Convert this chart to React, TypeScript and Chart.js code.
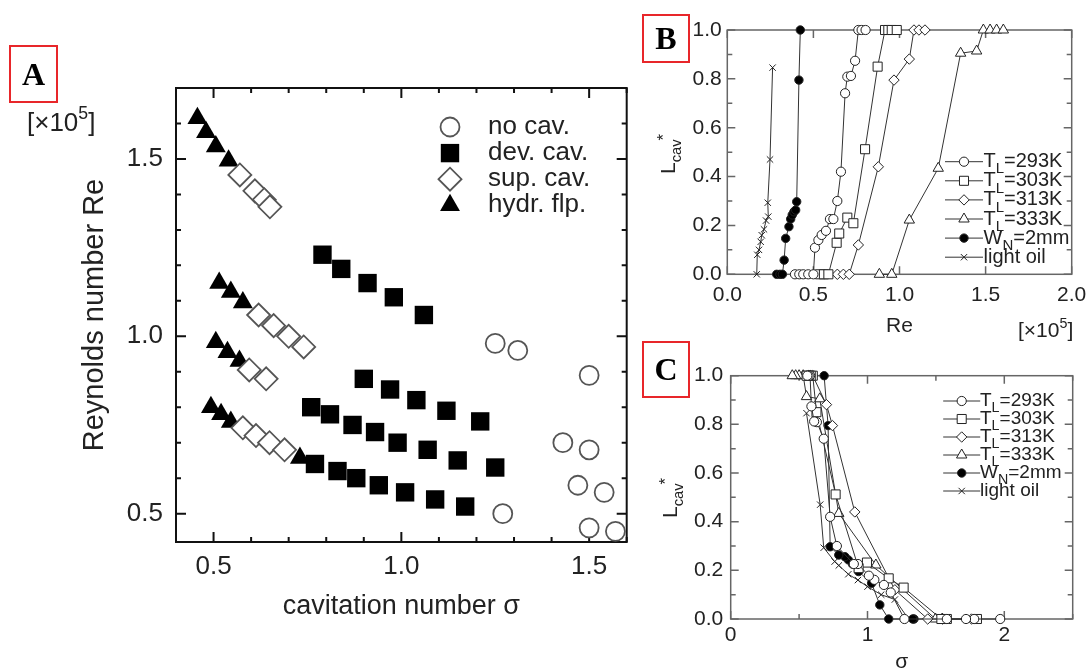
import React, { useEffect, useRef } from 'react';
import { Chart, registerables } from 'chart.js';
import { drawPoint } from 'chart.js/helpers';

Chart.register(...registerables);

const FONT = '"Liberation Sans", Arial, sans-serif';
const TXT = '#222';

// ---------------- Panel A: Re vs cavitation number ----------------
const noCavSigma = [1.25, 1.31, 1.5, 1.43, 1.5, 1.47, 1.54, 1.27, 1.5, 1.57];
const noCavRe = [0.98, 0.96, 0.89, 0.7, 0.68, 0.58, 0.56, 0.5, 0.46, 0.45];

const devCavSigma = [
  0.79, 0.84, 0.91, 0.98, 1.06,
  0.9, 0.97, 1.04, 1.12, 1.21,
  0.76, 0.81, 0.87, 0.93, 0.99, 1.07, 1.15, 1.25,
  0.77, 0.83, 0.88, 0.94, 1.01, 1.09, 1.17,
];
const devCavRe = [
  1.23, 1.19, 1.15, 1.11, 1.06,
  0.88, 0.85, 0.82, 0.79, 0.76,
  0.8, 0.78, 0.75, 0.73, 0.7, 0.68, 0.65, 0.63,
  0.64, 0.62, 0.6, 0.58, 0.56, 0.54, 0.52,
];

const supCavSigma = [0.57, 0.61, 0.635, 0.65, 0.62, 0.66, 0.7, 0.74, 0.595, 0.64, 0.578, 0.613, 0.649, 0.689];
const supCavRe = [1.455, 1.41, 1.385, 1.365, 1.06, 1.03, 1.0, 0.97, 0.905, 0.88, 0.742, 0.72, 0.7, 0.68];

const hydrFlpSigma = [0.457, 0.48, 0.506, 0.54, 0.515, 0.546, 0.578, 0.506, 0.537, 0.569, 0.493, 0.52, 0.546, 0.73];
const hydrFlpRe = [1.615, 1.575, 1.535, 1.495, 1.15, 1.125, 1.095, 0.983, 0.955, 0.93, 0.8, 0.78, 0.758, 0.657];

// ---------------- Panels B and C: L_cav* vs Re and vs sigma ----------------
const re293 = [0.393, 0.418, 0.441, 0.47, 0.5, 0.509, 0.529, 0.548, 0.573, 0.596, 0.616, 0.639, 0.66, 0.684, 0.697, 0.718, 0.742, 0.761, 0.78, 0.803];
const sigma293 = [1.97, 1.78, 1.72, 1.58, 1.27, 1.17, 1.12, 1.05, 1.01, 0.93, 0.9, 0.776, 0.727, 0.68, 0.63, 0.61, 0.59, 0.58, 0.57, 0.56];
const lcav293 = [0, 0, 0, 0, 0, 0.109, 0.14, 0.161, 0.178, 0.226, 0.226, 0.3, 0.42, 0.741, 0.809, 0.812, 0.874, 1, 1, 1];

const re303 = [0.538, 0.561, 0.587, 0.635, 0.65, 0.697, 0.732, 0.8, 0.873, 0.916, 0.935, 0.955, 0.984];
const sigma303 = [1.8, 1.58, 1.54, 1.264, 1.155, 0.996, 0.935, 0.767, 0.627, 0.6, 0.585, 0.57, 0.555];
const lcav303 = [0, 0, 0, 0.129, 0.167, 0.232, 0.209, 0.512, 0.85, 1, 1, 1, 1];

const re313 = [0.639, 0.674, 0.708, 0.761, 0.877, 0.968, 1.057, 1.084, 1.113, 1.148];
const sigma313 = [1.76, 1.55, 1.44, 1.2, 0.907, 0.744, 0.7, 0.6, 0.585, 0.57];
const lcav313 = [0, 0, 0, 0.12, 0.44, 0.795, 0.881, 1, 1, 1];

const re333 = [0.883, 0.955, 1.057, 1.225, 1.355, 1.448, 1.487, 1.526, 1.564, 1.603];
const sigma333 = [1.546, 1.497, 1.061, 0.79, 0.651, 0.554, 0.53, 0.5, 0.475, 0.45];
const lcav333 = [0, 0, 0.222, 0.434, 0.905, 0.914, 1, 1, 1, 1];

const reWn = [0.287, 0.306, 0.32, 0.33, 0.339, 0.358, 0.368, 0.377, 0.387, 0.397, 0.403, 0.416, 0.424];
const sigmaWn = [1.34, 1.33, 1.155, 1.09, 1.03, 0.935, 0.89, 0.86, 0.835, 0.79, 0.727, 0.712, 0.683];
const lcavWn = [0, 0, 0, 0.058, 0.147, 0.195, 0.226, 0.243, 0.256, 0.263, 0.297, 0.795, 1.0];

const reOil = [0.171, 0.174, 0.184, 0.194, 0.2, 0.213, 0.225, 0.238, 0.235, 0.248, 0.263];
const sigmaOil = [1.3, 1.2, 1.1, 1.0, 0.93, 0.86, 0.79, 0.76, 0.68, 0.654, 0.554];
const lcavOil = [0, 0.08, 0.1, 0.133, 0.16, 0.184, 0.22, 0.236, 0.293, 0.47, 0.846];

const pair = (xs: number[], ys: number[]) => xs.map((x, i) => ({ x, y: ys[i] }));

// ---------------- plugins ----------------
const frameTicksPlugin = {
  id: 'frameTicks',
  beforeDatasetsDraw(chart: any, _a: any, o: any) {
    if (!o || !o.color) return;
    const { ctx, chartArea: ca, scales } = chart;
    ctx.save();
    ctx.strokeStyle = o.color;
    ctx.lineWidth = o.width;
    ctx.strokeRect(ca.left, ca.top, ca.right - ca.left, ca.bottom - ca.top);
    const draw = (scale: any, minor: number, major: number, horiz: boolean) => {
      const start = Math.ceil(scale.min / minor - 1e-6);
      const end = Math.floor(scale.max / minor + 1e-6);
      for (let k = start; k <= end; k++) {
        const v = k * minor;
        const isMajor = Math.abs(v / major - Math.round(v / major)) < 1e-6;
        const len = isMajor ? o.majorLen : o.minorLen;
        const p = scale.getPixelForValue(v);
        ctx.beginPath();
        if (horiz) {
          ctx.moveTo(p, ca.bottom); ctx.lineTo(p, ca.bottom - len);
          ctx.moveTo(p, ca.top); ctx.lineTo(p, ca.top + len);
        } else {
          ctx.moveTo(ca.left, p); ctx.lineTo(ca.left + len, p);
          ctx.moveTo(ca.right, p); ctx.lineTo(ca.right - len, p);
        }
        ctx.stroke();
      }
    };
    draw(scales.x, o.xMinor, o.xMajor, true);
    draw(scales.y, o.yMinor, o.yMajor, false);
    ctx.restore();
  },
};

const legendPlugin = {
  id: 'customLegend',
  afterDraw(chart: any, _a: any, o: any) {
    if (!o || !o.items) return;
    const ctx = chart.ctx;
    ctx.save();
    o.items.forEach((it: any, i: number) => {
      const y = o.y + i * o.dy;
      if (o.lineLen) {
        ctx.strokeStyle = o.lineColor;
        ctx.lineWidth = 1;
        ctx.beginPath();
        ctx.moveTo(o.x - o.lineLen / 2, y);
        ctx.lineTo(o.x + o.lineLen / 2, y);
        ctx.stroke();
      }
      ctx.fillStyle = it.fill;
      ctx.strokeStyle = it.stroke;
      ctx.lineWidth = it.bw;
      drawPoint(ctx, { pointStyle: it.style, radius: it.radius, borderWidth: it.bw, rotation: 0 } as any, o.x, y);
      let tx = o.textX;
      ctx.fillStyle = o.color;
      ctx.textBaseline = 'middle';
      ctx.textAlign = 'left';
      for (const p of it.parts) {
        const size = p.sub ? o.fontSize * 0.75 : o.fontSize;
        ctx.font = `${size}px ${FONT}`;
        const dy = p.sub ? o.fontSize * 0.38 : 0;
        ctx.fillText(p.t, tx, y + dy);
        tx += ctx.measureText(p.t).width;
      }
    });
    ctx.restore();
  },
};

// ---------------- config builders ----------------
function fixedAxis(size: number, horizontal: boolean) {
  return (s: any) => {
    if (horizontal) s.height = size; else s.width = size;
    s.paddingLeft = 0; s.paddingRight = 0; s.paddingTop = 0; s.paddingBottom = 0;
  };
}

function configA() {
  const mk = (label: string, xs: number[], ys: number[], style: string, r: number, bg: string, bc: string, bw: number) => ({
    label, data: pair(xs, ys), showLine: false, pointStyle: style, pointRadius: r,
    pointBackgroundColor: bg, pointBorderColor: bc, pointBorderWidth: bw, clip: false,
  });
  return {
    type: 'scatter',
    data: {
      datasets: [
        mk('no cav.', noCavSigma, noCavRe, 'circle', 9.5, '#fff', '#555', 1.8),
        mk('dev. cav.', devCavSigma, devCavRe, 'rect', 13, '#000', '#000', 0),
        mk('sup. cav.', supCavSigma, supCavRe, 'rectRot', 11.5, '#fff', '#555', 1.8),
        mk('hydr. flp.', hydrFlpSigma, hydrFlpRe, 'triangle', 11.5, '#000', '#000', 0),
      ],
    },
    options: {
      responsive: false, animation: false, devicePixelRatio: 1,
      layout: { padding: { left: 0, top: 88, right: 13, bottom: 0 } },
      scales: {
        x: {
          type: 'linear', position: 'bottom', min: 0.4, max: 1.6,
          grid: { display: false, drawTicks: false }, border: { display: false },
          ticks: { stepSize: 0.5, includeBounds: false, padding: 9.4, color: TXT, font: { family: FONT, size: 26 }, callback: (v: any) => Number(v).toFixed(1) },
          title: { display: true, text: 'cavitation number σ', color: TXT, font: { family: FONT, size: 27 }, padding: { top: 0, bottom: 44.8 } },
          afterFit: fixedAxis(126, true),
        },
        y: {
          type: 'linear', position: 'left', min: 0.42, max: 1.7,
          grid: { display: false, drawTicks: false }, border: { display: false },
          ticks: { stepSize: 0.5, includeBounds: false, padding: 13, color: TXT, font: { family: FONT, size: 26 }, callback: (v: any) => Number(v).toFixed(1) },
          title: { display: true, text: 'Reynolds number Re', color: TXT, font: { family: FONT, size: 29 }, padding: { top: 77.6, bottom: 0 } },
          afterFit: fixedAxis(176, false),
        },
      },
      plugins: {
        legend: { display: false },
        tooltip: { enabled: false },
        frameTicks: { color: '#111', width: 2, xMinor: 0.1, xMajor: 0.5, yMinor: 0.1, yMajor: 0.5, majorLen: 10, minorLen: 5 },
        customLegend: {
          x: 450, y: 127, dy: 26.1, textX: 488, fontSize: 26, color: TXT, lineLen: 0,
          items: [
            { parts: [{ t: 'no cav.' }], style: 'circle', radius: 9.5, fill: '#fff', stroke: '#555', bw: 1.8 },
            { parts: [{ t: 'dev. cav.' }], style: 'rect', radius: 13, fill: '#000', stroke: '#000', bw: 0 },
            { parts: [{ t: 'sup. cav.' }], style: 'rectRot', radius: 11.5, fill: '#fff', stroke: '#555', bw: 1.8 },
            { parts: [{ t: 'hydr. flp.' }], style: 'triangle', radius: 11.5, fill: '#000', stroke: '#000', bw: 0 },
          ],
        },
      },
    },
    plugins: [frameTicksPlugin, legendPlugin],
  };
}

const seriesStyles = [
  { style: 'circle', r: 4.6, bg: '#fff' },
  { style: 'rect', r: 6.4, bg: '#fff' },
  { style: 'rectRot', r: 5.2, bg: '#fff' },
  { style: 'triangle', r: 6, bg: '#fff' },
  { style: 'circle', r: 4.2, bg: '#000' },
  { style: 'crossRot', r: 4.5, bg: '#000' },
];

const legendParts = [
  [{ t: 'T' }, { t: 'L', sub: true }, { t: '=293K' }],
  [{ t: 'T' }, { t: 'L', sub: true }, { t: '=303K' }],
  [{ t: 'T' }, { t: 'L', sub: true }, { t: '=313K' }],
  [{ t: 'T' }, { t: 'L', sub: true }, { t: '=333K' }],
  [{ t: 'W' }, { t: 'N', sub: true }, { t: '=2mm' }],
  [{ t: 'light oil' }],
];
const seriesLabels = ['TL=293K', 'TL=303K', 'TL=313K', 'TL=333K', 'WN=2mm', 'light oil'];

function lineDatasets(xsList: number[][], ysList: number[][]) {
  return xsList.map((xs, i) => ({
    label: seriesLabels[i],
    data: pair(xs, ysList[i]),
    showLine: true,
    borderColor: '#333',
    borderWidth: 1,
    pointStyle: seriesStyles[i].style,
    pointRadius: seriesStyles[i].r,
    pointBackgroundColor: seriesStyles[i].bg,
    pointBorderColor: '#222',
    pointBorderWidth: 1,
    clip: false,
  }));
}

function legendItems() {
  return seriesStyles.map((s, i) => ({ parts: legendParts[i], style: s.style, radius: s.r, fill: s.bg, stroke: '#222', bw: 1 }));
}

const lcavList = [lcav293, lcav303, lcav313, lcav333, lcavWn, lcavOil];

function configB() {
  return {
    type: 'scatter',
    data: { datasets: lineDatasets([re293, re303, re313, re333, reWn, reOil], lcavList) },
    options: {
      responsive: false, animation: false, devicePixelRatio: 1,
      layout: { padding: { left: 0, top: 30, right: 18.3, bottom: 0 } },
      scales: {
        x: {
          type: 'linear', position: 'bottom', min: 0, max: 2,
          grid: { display: false, drawTicks: false }, border: { display: false },
          ticks: { stepSize: 0.5, padding: 8.1, color: TXT, font: { family: FONT, size: 21 }, callback: (v: any) => Number(v).toFixed(1) },
          title: { display: true, text: 'Re', color: TXT, font: { family: FONT, size: 21 }, padding: { top: 0, bottom: 1.4 } },
          afterFit: fixedAxis(65.7, true),
        },
        y: {
          type: 'linear', position: 'left', min: 0, max: 1,
          grid: { display: false, drawTicks: false }, border: { display: false },
          ticks: { stepSize: 0.2, padding: 5.6, color: TXT, font: { family: FONT, size: 21 }, callback: (v: any) => Number(v).toFixed(1) },
          afterFit: fixedAxis(87.3, false),
        },
      },
      plugins: {
        legend: { display: false },
        tooltip: { enabled: false },
        frameTicks: { color: '#666', width: 1.5, xMinor: 0.5, xMajor: 0.5, yMinor: 0.1, yMajor: 0.2, majorLen: 8, minorLen: 5 },
        customLegend: { x: 324, y: 161.7, dy: 19.1, textX: 343.5, fontSize: 20, color: TXT, lineLen: 38, lineColor: '#333', items: legendItems() },
      },
    },
    plugins: [frameTicksPlugin, legendPlugin],
  };
}

function configC() {
  return {
    type: 'scatter',
    data: { datasets: lineDatasets([sigma293, sigma303, sigma313, sigma333, sigmaWn, sigmaOil], lcavList) },
    options: {
      responsive: false, animation: false, devicePixelRatio: 1,
      layout: { padding: { left: 0, top: 35.7, right: 17.3, bottom: 0 } },
      scales: {
        x: {
          type: 'linear', position: 'bottom', min: 0, max: 2.5,
          grid: { display: false, drawTicks: false }, border: { display: false },
          ticks: { stepSize: 1, includeBounds: false, padding: 3.4, color: TXT, font: { family: FONT, size: 21 }, callback: (v: any) => String(v) },
          title: { display: true, text: 'σ', color: TXT, font: { family: FONT, size: 21 }, padding: { top: 0, bottom: 5.4 } },
          afterFit: fixedAxis(61, true),
        },
        y: {
          type: 'linear', position: 'left', min: 0, max: 1,
          grid: { display: false, drawTicks: false }, border: { display: false },
          ticks: { stepSize: 0.2, padding: 7.4, color: TXT, font: { family: FONT, size: 21 }, callback: (v: any) => Number(v).toFixed(1) },
          afterFit: fixedAxis(90.7, false),
        },
      },
      plugins: {
        legend: { display: false },
        tooltip: { enabled: false },
        frameTicks: { color: '#666', width: 1.5, xMinor: 0.5, xMajor: 1, yMinor: 0.1, yMajor: 0.2, majorLen: 8, minorLen: 5 },
        customLegend: { x: 321.7, y: 61, dy: 18, textX: 340, fontSize: 19, color: TXT, lineLen: 37, lineColor: '#333', items: legendItems() },
      },
    },
    plugins: [frameTicksPlugin, legendPlugin],
  };
}

function ChartCanvas({ left, top, width, height, make }: { left: number; top: number; width: number; height: number; make: () => any }) {
  const ref = useRef<HTMLCanvasElement>(null);
  useEffect(() => {
    const chart = new Chart(ref.current as HTMLCanvasElement, make());
    return () => chart.destroy();
  }, []);
  return <canvas ref={ref} width={width} height={height} style={{ position: 'absolute', left, top, width, height }} />;
}

const boxStyle = (left: number, top: number, w: number, h: number): React.CSSProperties => ({
  position: 'absolute', left, top, width: w, height: h, boxSizing: 'border-box', border: '2px solid #e8262a',
  display: 'flex', alignItems: 'center', justifyContent: 'center',
  fontFamily: '"Liberation Serif", "Times New Roman", serif', fontWeight: 'bold', fontSize: 32, color: '#000',
});

function Lcav({ cx, cy, size }: { cx: number; cy: number; size: number }) {
  return (
    <div style={{ position: 'absolute', left: cx, top: cy, transform: 'translate(-50%, -50%) rotate(-90deg)', whiteSpace: 'nowrap', fontFamily: FONT, fontSize: size, color: TXT, lineHeight: 1 }}>
      L<sub style={{ fontSize: size * 0.7, verticalAlign: -size * 0.3 }}>cav</sub><sup style={{ fontSize: size * 0.8, verticalAlign: size * 0.3, marginLeft: -1 }}>*</sup>
    </div>
  );
}

function Times10({ left, top, size }: { left: number; top: number; size: number }) {
  return (
    <div style={{ position: 'absolute', left, top, whiteSpace: 'nowrap', fontFamily: FONT, fontSize: size, color: TXT, lineHeight: 1 }}>
      [×10<sup style={{ fontSize: size * 0.68, verticalAlign: size * 0.45 }}>5</sup>]
    </div>
  );
}

export default function App() {
  return (
    <div style={{ position: 'absolute', left: 0, top: 0, width: 1090, height: 668, overflow: 'hidden', background: '#fff' }}>
      <ChartCanvas left={0} top={0} width={640} height={668} make={configA} />
      <ChartCanvas left={640} top={0} width={450} height={340} make={configB} />
      <ChartCanvas left={640} top={340} width={450} height={340} make={configC} />
      <div style={boxStyle(9, 45, 49, 58)}>A</div>
      <div style={boxStyle(642, 14, 48, 49)}>B</div>
      <div style={boxStyle(642, 341, 48, 57)}>C</div>
      <Times10 left={27} top={105} size={26} />
      <Times10 left={1018} top={316} size={21} />
      <Lcav cx={670} cy={154} size={21} />
      <Lcav cx={672} cy={498} size={21} />
    </div>
  );
}
